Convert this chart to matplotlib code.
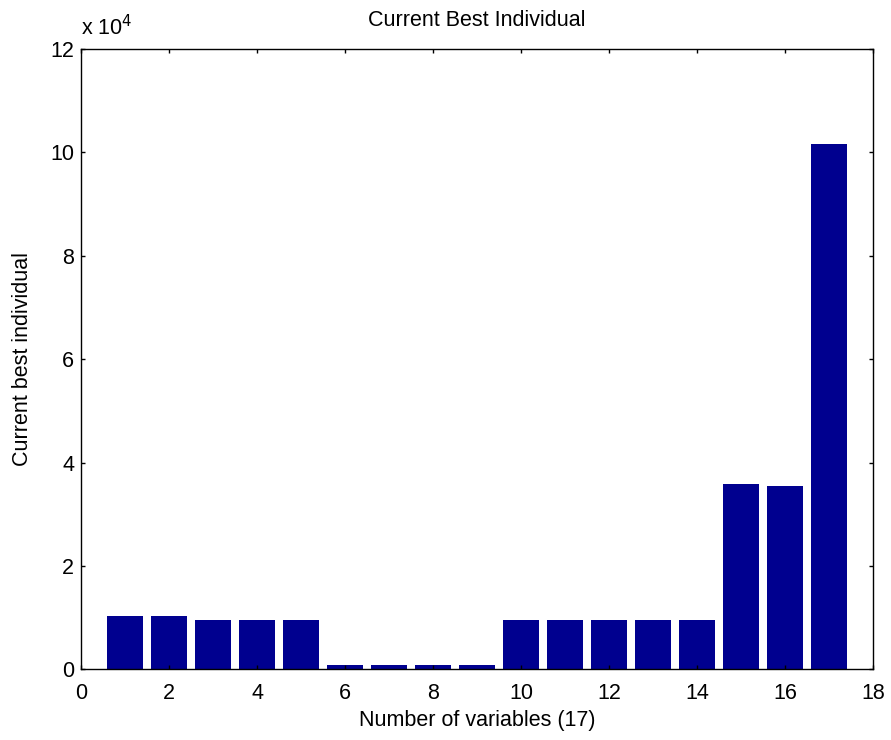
#
# plot.py
# -------
# Bar chart of the current best individual (GA output).
#

import numpy as np
import matplotlib
matplotlib.use("Agg")
import matplotlib.pyplot as plt

variables = np.arange(1, 18)
best_individual = [10250, 10250, 9650, 9650, 9650,
                   770, 770, 770, 770,
                   9650, 9650, 9650, 9650, 9650,
                   35900, 35500, 101500]
x_ticks = [0, 2, 4, 6, 8, 10, 12, 14, 16, 18]
y_ticks = [0, 2, 4, 6, 8, 10, 12]

plt.rcParams['font.family'] = ['Liberation Sans', 'DejaVu Sans']


def main():
    fig = plt.figure(figsize=(8.91, 7.40), dpi=100)
    ax = fig.add_axes([0.0909, 0.0953, 0.889, 0.839])

    scaled = np.array(best_individual) / 1e4
    ax.bar(variables, scaled, width=0.8, color='#00008f', edgecolor='none')

    ax.set_xlim(0, 18)
    ax.set_ylim(0, 12)
    ax.set_xticks(x_ticks)
    ax.set_yticks(y_ticks)
    ax.tick_params(direction='in', length=3, width=1, labelsize=15.5,
                   top=True, right=True)
    ax.tick_params(axis='x', pad=10)
    ax.tick_params(axis='y', pad=5)
    for s in ax.spines.values():
        s.set_linewidth(1)

    ax.set_xlabel('Number of variables (17)', fontsize=15.5, labelpad=4)
    ax.set_ylabel('Current best individual', fontsize=15.5, labelpad=12)
    ax.set_title('Current Best Individual', fontsize=15.5, pad=16)
    ax.text(0.0, 1.014, r'x 10$^{4}$', transform=ax.transAxes,
            fontsize=15.5, ha='left', va='bottom')

    fig.savefig('out.png', dpi=100)


if __name__ == "__main__":
    main()
